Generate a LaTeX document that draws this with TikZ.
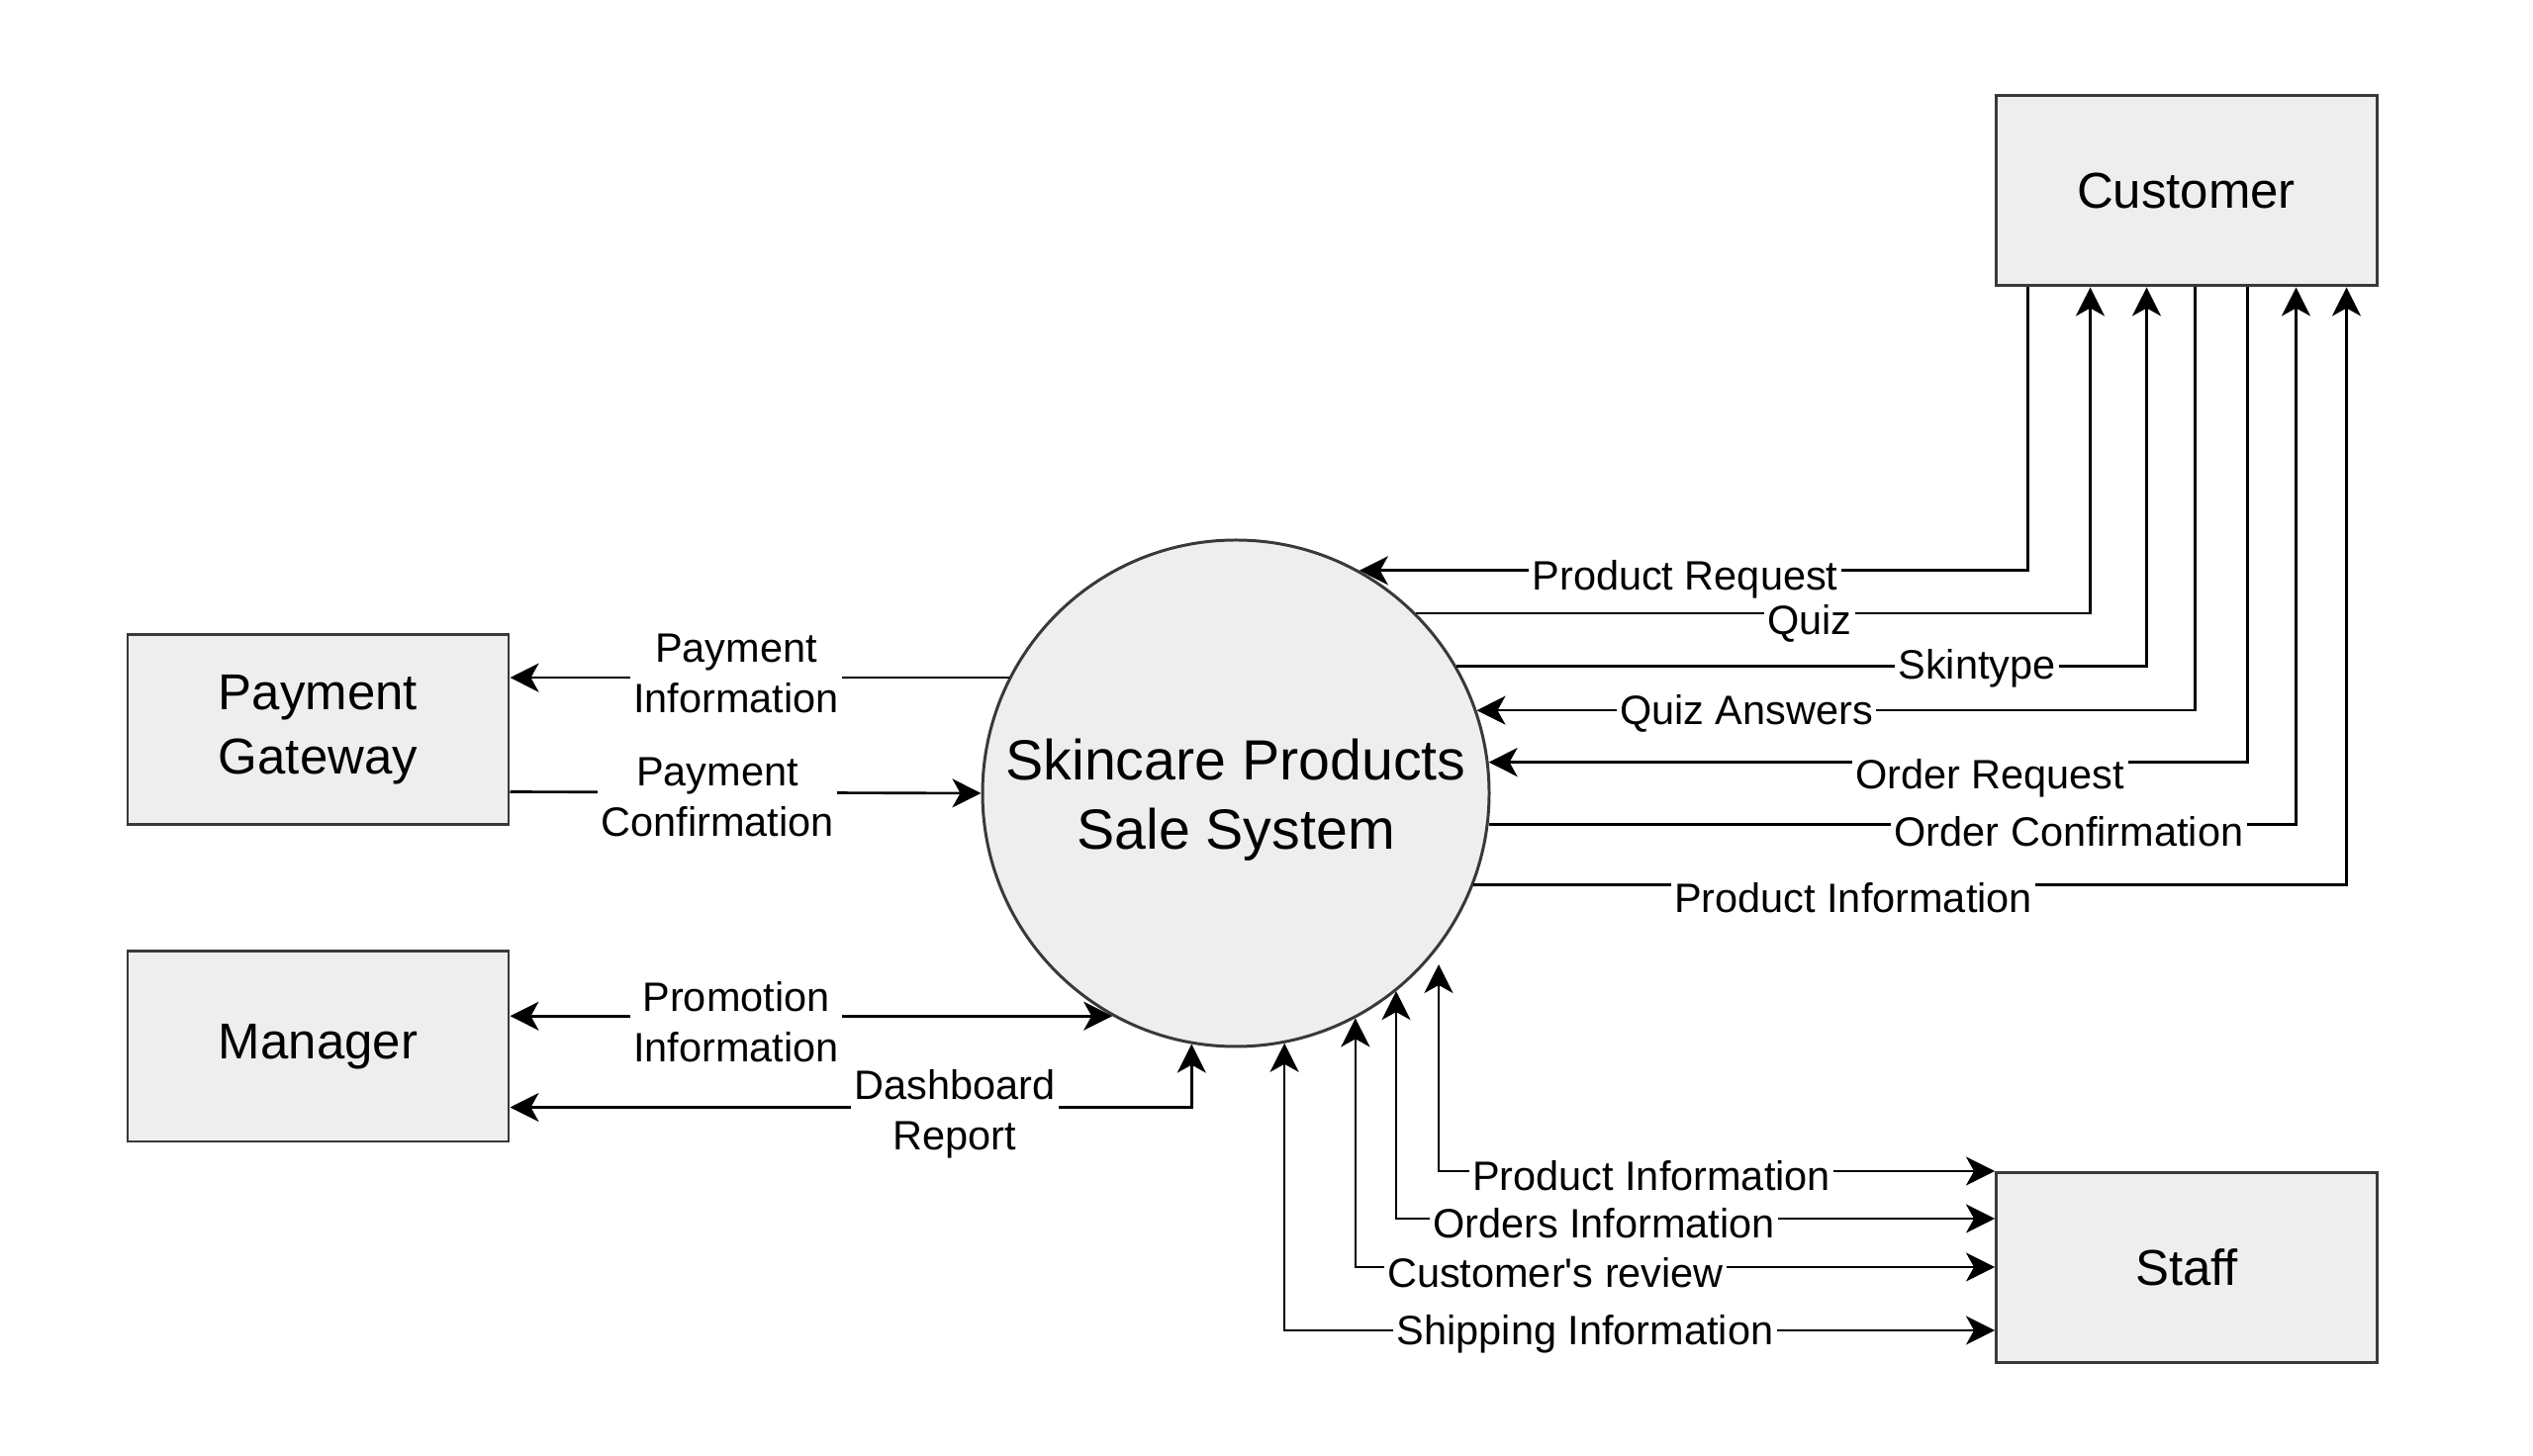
\documentclass[tikz,border=0pt]{standalone}
\usepackage{fontspec}
\setmainfont{Liberation Sans}
\usetikzlibrary{arrows.meta}
\definecolor{boxfill}{HTML}{EEEEEE}
\definecolor{boxline}{HTML}{36393D}
\tikzset{
    entity/.style={draw=boxline, fill=boxfill, line width=0.85pt, minimum width=3.85cm, minimum height=1.92cm, inner sep=0pt, align=center, font=\fontsize{14.5}{18.5}\selectfont},
    process/.style={circle, draw=boxline, fill=boxfill, line width=0.85pt, minimum size=5.12cm, inner sep=0pt, align=center, font=\fontsize{16.3}{19.9}\selectfont},
    lbl/.style={fill=white, inner xsep=1pt, inner ysep=0.5pt, align=center, font=\fontsize{11.8}{14.5}\selectfont},
    >={Stealth[length=0.29cm,width=0.29cm,inset=0.08cm]}
}

\begin{document}
\begin{tikzpicture}[line width=0.75pt]
    \useasboundingbox (0,0) rectangle (25.6,14.72);
    \node[process] (sys) at (12.49,6.70) {\rule{0pt}{0.55cm}Skincare Products\\Sale System};
    \node[entity] (cust) at (22.095,12.79) {Customer};
    \node[entity] (pay) at (3.215,7.34) {Payment\\Gateway};
    \node[entity] (man) at (3.215,4.14) {Manager};
    \node[entity] (staff) at (22.10,1.905) {Staff};

    \draw[->] ([xshift=0.34cm]cust.south west) |- (sys.61.5);
    \draw[->] (sys.45.3) -| ([xshift=0.97cm]cust.south west);
    \draw[->] (sys.30.5) -| ([xshift=1.54cm]cust.south west);
    \draw[->] ([xshift=2.03cm]cust.south west) |- (sys.19.4);
    \draw[->] ([xshift=2.56cm]cust.south west) |- (sys.7);
    \draw[->] (sys.-7) -| ([xshift=3.05cm]cust.south west);
    \draw[->] (sys.-21.8) -| ([xshift=3.56cm]cust.south west);

    \draw[->] (sys.153.3) -- (sys.153.3 -| pay.east);
    \draw[->] ([yshift=-1.60cm]pay.north east) -- (sys.west);
    \draw[<->] (sys.-119.4 -| man.east) -- (sys.-119.4);
    \draw[<->] (sys.-100.35) |- ([yshift=-1.59cm]man.north east);

    \coordinate (pitop) at (14.54,4.97);
    \draw[<->] (pitop) |- (staff.north west);
    \draw[<->] (sys.-51.3) |- ([yshift=-0.48cm]staff.north west);
    \draw[<->] (sys.-62.5) |- ([yshift=-0.97cm]staff.north west);
    \draw[<->] (sys.-79.2) |- ([yshift=-1.61cm]staff.north west);

    \node[lbl] (lreq) at (17.03,8.86) {Product Request};
    \node[lbl] (lquiz) at (18.29,8.42) {Quiz};
    \node[lbl] (lskin) at (19.98,7.96) {Skintype};
    \node[lbl] (lans) at (17.65,7.51) {Quiz Answers};
    \node[lbl] (lord) at (20.11,6.85) {Order Request};
    \node[lbl] (lconf) at (20.91,6.31) {Order Confirmation};
    \node[lbl] (lprod) at (18.73,5.64) {Product Information};

    \node[lbl] (lpayinf) at (7.44,7.91) {Payment\\Information};
    \node[lbl] (lpayconf) at (7.25,6.66) {Payment\\Confirmation};
    \node[lbl] (lpromo) at (7.44,4.39) {Promotion\\Information};
    \node[lbl] (ldash) at (9.65,3.46) {Dashboard\\Report};

    \node[lbl] (lsprod) at (16.69,2.83) {Product Information};
    \node[lbl] (lsord) at (16.21,2.35) {Orders Information};
    \node[lbl] (lsrev) at (15.72,1.85) {Customer\textquotesingle s review};
    \node[lbl] (lsship) at (16.02,1.23) {Shipping Information};
\end{tikzpicture}
\end{document}
